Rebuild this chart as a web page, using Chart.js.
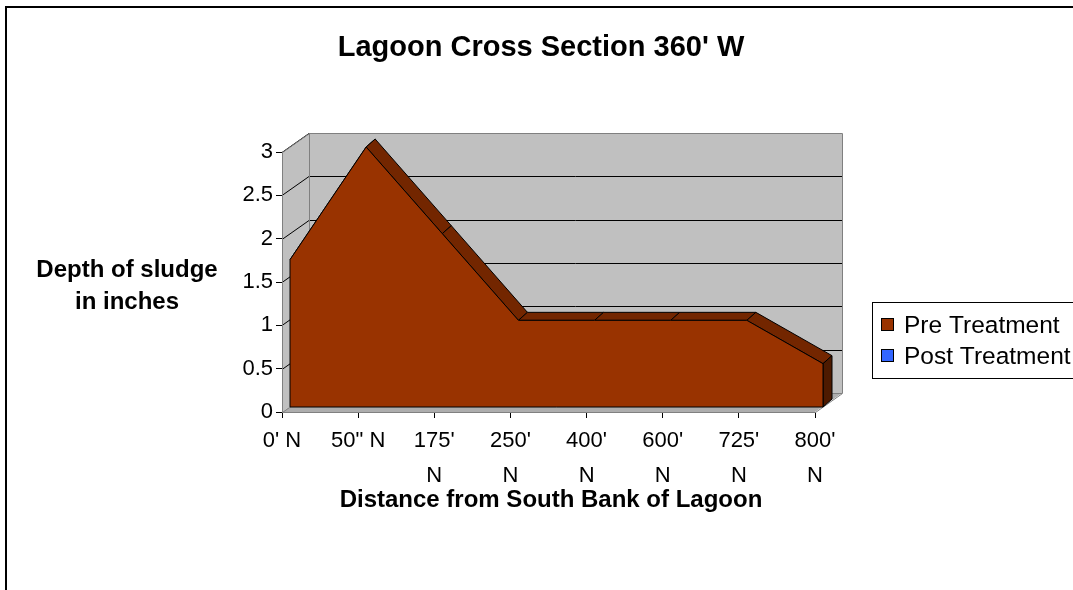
<!DOCTYPE html>
<html>
<head>
<meta charset="utf-8">
<script src="https://cdn.jsdelivr.net/npm/chart.js@4.4.1/dist/chart.umd.min.js"></script>
<style>
  html, body { margin: 0; padding: 0; background: #ffffff; }
  #wrap { width: 1073px; height: 590px; position: relative; }
</style>
</head>
<body>
<div id="wrap"><canvas id="c" width="1073" height="590"></canvas></div>
<script>
// ---- data ----
const chartTitle = "Lagoon Cross Section 360' W";
const xAxisTitle = "Distance from South Bank of Lagoon";
const yAxisTitle = ["Depth of sludge", "in inches"];
const categories = ["0' N", '50" N', "175' N", "250' N", "400' N", "600' N", "725' N", "800' N"];
const tickLabels = [["0' N"], ['50" N'], ["175'", "N"], ["250'", "N"], ["400'", "N"], ["600'", "N"], ["725'", "N"], ["800'", "N"]];
const preTreatment = [1.7, 3, 2, 1, 1, 1, 1, 0.5];
const postTreatment = [];
const yTicks = [0, 0.5, 1, 1.5, 2, 2.5, 3];
const seriesNames = ["Pre Treatment", "Post Treatment"];
const seriesColors = ["#993300", "#3366FF"];

// ---- 3D look ----
const F1 = { x: 8, y: -5 };   // front face of the area
const F2 = { x: 17, y: -13 }; // back face of the area
const D = { x: 27, y: -19 };  // back wall
const FONT = "'Liberation Sans', Arial, sans-serif";

const walls = {
  id: 'walls',
  beforeDraw(chart) {
    const { ctx, chartArea: a, scales: { y } } = chart;
    const L = Math.round(a.left), R = Math.round(a.right);
    const T = Math.round(y.getPixelForValue(yTicks[yTicks.length - 1]));
    const B = Math.round(y.getPixelForValue(0));
    ctx.save();
    // outer frame
    ctx.strokeStyle = '#000'; ctx.lineWidth = 2;
    ctx.strokeRect(6, 7, 1200, 1200);
    // back wall
    ctx.fillStyle = '#C0C0C0';
    ctx.fillRect(L + D.x, T + D.y, R - L, B - T);
    // side wall
    ctx.beginPath();
    ctx.moveTo(L, T); ctx.lineTo(L + D.x, T + D.y); ctx.lineTo(L + D.x, B + D.y); ctx.lineTo(L, B); ctx.closePath();
    ctx.fill();
    // floor
    ctx.fillStyle = '#ADADAD';
    ctx.beginPath();
    ctx.moveTo(L, B); ctx.lineTo(L + D.x, B + D.y); ctx.lineTo(R + D.x, B + D.y); ctx.lineTo(R, B); ctx.closePath();
    ctx.fill();
    // gridlines
    ctx.lineWidth = 1; ctx.strokeStyle = '#000';
    yTicks.forEach(v => {
      if (v === 0) return;
      const yy = Math.round(y.getPixelForValue(v)) + 0.5;
      ctx.beginPath();
      ctx.moveTo(L, yy); ctx.lineTo(L + D.x, yy + D.y); ctx.lineTo(R + D.x, yy + D.y);
      ctx.stroke();
    });
    // edges
    ctx.strokeStyle = '#808080';
    ctx.beginPath();
    ctx.moveTo(L + 0.5, T + 0.5); ctx.lineTo(L + D.x + 0.5, T + D.y + 0.5);
    ctx.lineTo(R + D.x + 0.5, T + D.y + 0.5); ctx.lineTo(R + D.x + 0.5, B + D.y + 0.5);
    ctx.lineTo(R + 0.5, B + 0.5);
    ctx.moveTo(L + D.x + 0.5, T + D.y); ctx.lineTo(L + D.x + 0.5, B + D.y + 0.5);
    ctx.lineTo(R + D.x, B + D.y + 0.5);
    ctx.moveTo(L + 0.5, B + 0.5); ctx.lineTo(L + D.x + 0.5, B + D.y + 0.5);
    ctx.stroke();
    ctx.restore();
  },
  beforeDatasetsDraw(chart) {
    const { ctx, scales: { y } } = chart;
    const pts = chart.getDatasetMeta(0).data;
    const base = y.getPixelForValue(0);
    ctx.save();
    ctx.lineWidth = 1; ctx.strokeStyle = '#000'; ctx.lineJoin = 'round';
    ctx.fillStyle = '#732600';
    for (let i = 0; i < pts.length - 1; i++) {
      const p = pts[i], q = pts[i + 1];
      ctx.beginPath();
      ctx.moveTo(p.x + F1.x, p.y + F1.y); ctx.lineTo(q.x + F1.x, q.y + F1.y);
      ctx.lineTo(q.x + F2.x, q.y + F2.y); ctx.lineTo(p.x + F2.x, p.y + F2.y);
      ctx.closePath(); ctx.fill(); ctx.stroke();
    }
    const e = pts[pts.length - 1];
    ctx.fillStyle = '#4D1A00';
    ctx.beginPath();
    ctx.moveTo(e.x + F1.x, e.y + F1.y); ctx.lineTo(e.x + F2.x, e.y + F2.y);
    ctx.lineTo(e.x + F2.x, base + F2.y); ctx.lineTo(e.x + F1.x, base + F1.y);
    ctx.closePath(); ctx.fill(); ctx.stroke();
    ctx.restore();
    ctx.save();
    ctx.translate(F1.x, F1.y);
  },
  afterDatasetsDraw(chart) {
    const { ctx, scales: { y } } = chart;
    ctx.restore();
    const pts = chart.getDatasetMeta(0).data;
    const base = y.getPixelForValue(0) + F1.y;
    const s = pts[0], e = pts[pts.length - 1];
    ctx.save();
    ctx.strokeStyle = '#000'; ctx.lineWidth = 1;
    ctx.beginPath();
    ctx.moveTo(s.x + F1.x, s.y + F1.y); ctx.lineTo(s.x + F1.x, base);
    ctx.lineTo(e.x + F1.x, base); ctx.lineTo(e.x + F1.x, e.y + F1.y);
    ctx.stroke();
    ctx.restore();
  },
  afterDraw(chart) {
    const { ctx, chartArea: a } = chart;
    ctx.save();
    ctx.fillStyle = '#000';
    ctx.textAlign = 'center';
    ctx.textBaseline = 'middle';
    ctx.font = 'bold 29px ' + FONT;
    ctx.fillText(chartTitle, 541, 48);
    ctx.font = 'bold 24px ' + FONT;
    ctx.fillText(xAxisTitle, 551, 500);
    ctx.fillText(yAxisTitle[0], 127, 270);
    ctx.fillText(yAxisTitle[1], 127, 302);
    // legend
    ctx.strokeStyle = '#000'; ctx.lineWidth = 1;
    ctx.strokeRect(872.5, 302.5, 300, 76);
    ctx.textAlign = 'left';
    ctx.font = '24.5px ' + FONT;
    seriesNames.forEach((n, i) => {
      const cy = 325 + i * 31;
      ctx.fillStyle = seriesColors[i];
      ctx.fillRect(881, cy - 7, 13, 13);
      ctx.strokeRect(881.5, cy - 6.5, 12, 12);
      ctx.fillStyle = '#000';
      ctx.fillText(n, 904, cy + 1);
    });
    ctx.restore();
  }
};

new Chart(document.getElementById('c'), {
  type: 'line',
  data: {
    labels: categories,
    datasets: [
      { label: seriesNames[0], data: preTreatment, fill: 'origin', backgroundColor: seriesColors[0],
        borderColor: '#000', borderWidth: 1, pointRadius: 0, tension: 0, clip: false },
      { label: seriesNames[1], data: postTreatment, fill: false, backgroundColor: seriesColors[1],
        borderColor: seriesColors[1], pointRadius: 0 }
    ]
  },
  options: {
    responsive: false,
    animation: false,
    devicePixelRatio: 1,
    layout: { padding: { top: 152, left: 0, right: 258, bottom: 78 } },
    plugins: { legend: { display: false }, title: { display: false }, tooltip: { enabled: false } },
    scales: {
      x: {
        type: 'category',
        offset: false,
        afterFit(s) { s.height = 100; },
        grid: { display: true, drawOnChartArea: false, drawTicks: true, tickLength: 6, color: '#000' },
        border: { display: true, color: '#808080' },
        ticks: {
          autoSkip: false, maxRotation: 0, minRotation: 0, padding: 5, color: '#000',
          font: { family: FONT, size: 22, lineHeight: 1.6 },
          callback: (v, i) => tickLabels[i]
        }
      },
      y: {
        min: 0, max: 3,
        afterFit(s) { s.width = 282; },
        afterBuildTicks(s) { s.ticks = yTicks.map(v => ({ value: v })); },
        grid: { display: true, drawOnChartArea: false, drawTicks: true, tickLength: 6, color: '#000' },
        border: { display: true, color: '#808080' },
        ticks: { padding: 3, color: '#000', font: { family: FONT, size: 22 }, callback: v => String(v) }
      }
    }
  },
  plugins: [walls]
});
</script>
</body>
</html>
